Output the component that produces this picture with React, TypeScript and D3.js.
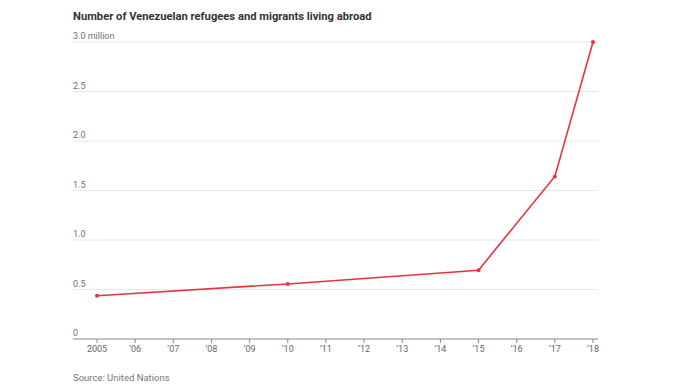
import * as d3 from 'd3'

const years = [2005, 2010, 2015, 2017, 2018]
const refugees = [0.437, 0.556, 0.695, 1.642, 3.0]
const yTicks = [0, 0.5, 1.0, 1.5, 2.0, 2.5, 3.0]
const xTicks = [2005, 2006, 2007, 2008, 2009, 2010, 2011, 2012, 2013, 2014, 2015, 2016, 2017, 2018]

const W = 683
const H = 389
const font = 'Roboto, "Noto Sans", sans-serif'

export default function App() {
  const left = 73
  const right = 598
  const x = d3.scaleLinear().domain([2005, 2018]).range([97, 593])
  const y = d3.scaleLinear().domain([0, 3]).range([339, 42])

  const line = d3
    .line<number>()
    .x((_, i) => x(years[i]))
    .y((d) => y(d))

  const yLabel = (v: number) => (v === 0 ? '0' : v === 3 ? '3.0 million' : v.toFixed(1))
  const xLabel = (v: number) => (v === 2005 ? '2005' : `\u2019${String(v).slice(2)}`)

  return (
    <svg
      width={W}
      height={H}
      style={{ position: 'absolute', left: 0, top: 0, background: '#fff' }}
      fontFamily={font}
    >
      <text x={left} y={20} fontSize={11.2} fontWeight={700} fill="#333">
        Number of Venezuelan refugees and migrants living abroad
      </text>

      {yTicks.map((t) => (
        <g key={t}>
          {t !== 0 && (
            <line x1={left} x2={right} y1={y(t)} y2={y(t)} stroke="#e8e8e8" strokeWidth={1} />
          )}
          <text x={left} y={y(t) - 3} fontSize={9} fill="#707070">
            {yLabel(t)}
          </text>
        </g>
      ))}

      <line x1={left} x2={right} y1={y(0)} y2={y(0)} stroke="#888" strokeWidth={1.2} />
      {xTicks.map((t) => (
        <g key={t}>
          <line x1={x(t)} x2={x(t)} y1={y(0)} y2={y(0) + 4} stroke="#888" strokeWidth={1} />
          <text x={x(t)} y={y(0) + 13} fontSize={9} fill="#666" textAnchor="middle">
            {xLabel(t)}
          </text>
        </g>
      ))}

      <path d={line(refugees) ?? ''} fill="none" stroke="#e8333b" strokeWidth={1.6} />
      {refugees.map((v, i) => (
        <circle key={i} cx={x(years[i])} cy={y(v)} r={2} fill="#e8333b" />
      ))}

      <text x={left} y={381} fontSize={9.5} fill="#777">
        Source: United Nations
      </text>
    </svg>
  )
}
